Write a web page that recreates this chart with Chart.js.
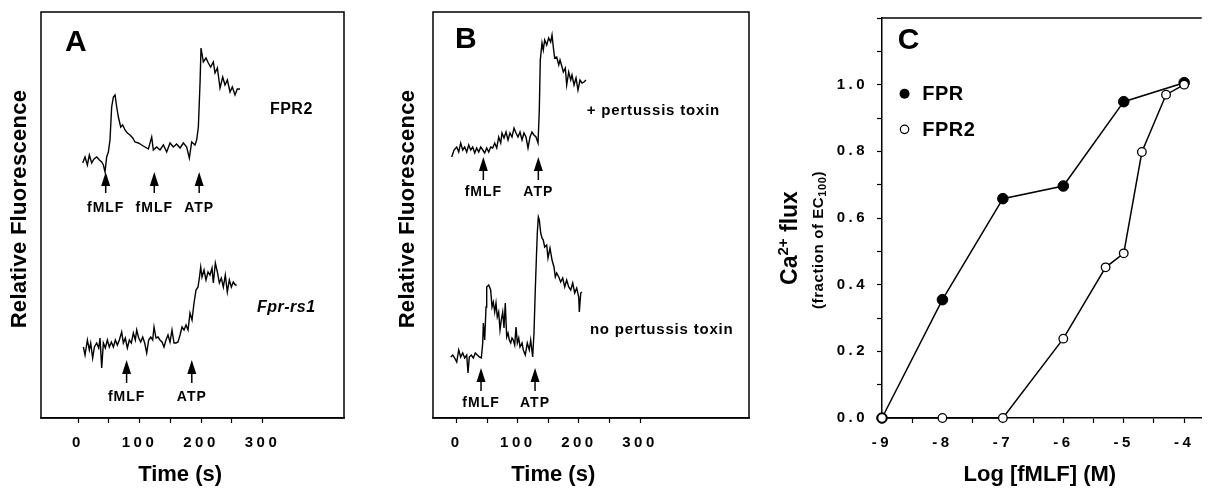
<!DOCTYPE html>
<html>
<head>
<meta charset="utf-8">
<script src="https://cdn.jsdelivr.net/npm/chart.js@4.4.1/dist/chart.umd.min.js"></script>
<style>
html, body { margin: 0; padding: 0; background: #fff; }
#wrap { position: relative; width: 1208px; height: 490px; overflow: hidden; }
canvas { position: absolute; top: 0; }
</style>
</head>
<body>
<div id="wrap">
  <canvas id="chartA" width="380" height="490" style="left:0"></canvas>
  <canvas id="chartB" width="380" height="490" style="left:380px"></canvas>
  <canvas id="chartC" width="448" height="490" style="left:760px"></canvas>
</div>
<script>
// --- panel A : FPR2 transfected cells (top) and Fpr-rs1 (bottom)
const timeA1 = [7.6,11.4,15.2,18.4,22.2,26,30.3,34.7,38.5,41.2,43.9,46.6,49.3,52,54.7,57.5,60.2,62.9,65.6,69.4,72.6,76.4,80.2,84.6,88.9,92.7,98.1,103.5,108.9,114.4,119.8,122.5,127.9,133.3,138.8,144.2,149.6,155,160.4,165.9,171.3,176.7,181,184.8,190.2,192.9,195.7,198.4,200,203.8,208.1,211.9,215.7,220,222.8,226.6,230.9,235.3,239,242.8,247.2,250.9,255.3,259,263.4];
const fluoA1 = [255,261,253,263,255,259,261,258,256,253,246,261,266,278,311,321,323,311,301,291,293,288,285,283,280,276,275,273,271,269,281,268,271,268,273,266,275,271,274,270,275,271,260,276,273,278,291,335,370,356,360,355,351,356,345,350,330,341,333,338,326,331,323,329,329];
const timeA2 = [8.7,11.4,15.2,18.4,20.6,23.8,26.6,30.3,33.6,35.8,38.5,41.2,44.4,47.7,50.9,54.2,57.5,60.7,63.9,67.2,71,73.7,76.9,80.2,83.5,86.7,90,93.2,95.4,98.7,101.9,105.2,108.4,111.7,114.9,118.2,121.4,123.6,126.8,130.1,133.3,136.6,139.8,143.1,146.3,149.6,152.8,156.1,159.3,162.6,165.9,169.1,172.4,175.6,178.9,182.1,185.4,188.6,191.9,195.1,197.3,199.5,201.6,204.9,208.1,211.4,214.6,217.9,220,223.3,226.6,229.8,233,236.3,239.5,242.8,246,249.3,252.5,255.8,258];
const fluoA2 = [71,63,78,68,75,60,71,75,70,80,50,75,70,78,71,76,71,78,73,78,86,75,80,70,78,75,85,78,88,80,76,81,75,65,78,81,78,91,80,81,78,76,71,78,83,76,88,75,75,76,83,91,88,93,88,105,98,115,128,131,140,151,141,148,138,146,143,150,135,155,146,135,140,131,143,126,138,131,136,133,133];
const stimTimesA1 = [45, 124, 197];
const stimLabelsA1 = ['fMLF', 'fMLF', 'ATP'];
const stimTimesA2 = [79, 185];
const stimLabelsA2 = ['fMLF', 'ATP'];

// --- panel B : with / without pertussis toxin
const timeB1 = [-8.2,-4.4,0,3.3,6.5,9.8,13.1,16.4,19.6,22.9,26.2,29.5,32.7,36,39.3,42.6,45.8,49.1,52.4,55.6,58.9,62.2,65.5,68.7,72,74.1,77.4,80.7,84,87.2,90.5,93.8,97.1,100.3,103.6,106.9,110.1,113.4,116.7,120,123.2,126.5,129.8,133.1,135.2,136.8,139.6,141.7,144,147.3,150.5,153.8,156,158.1,160.3,163.7,167,169.1,172.4,174.5,177.8,180,183.3,186.6,188.7,192,195.3,198.5,201.8,205.1,208.3,211.6];
const fluoB1 = [261,268,271,266,275,268,271,266,273,268,271,265,270,266,271,268,265,270,266,271,270,275,270,281,275,285,280,286,278,285,281,290,285,281,286,278,285,281,270,281,286,283,281,275,308,358,375,368,378,373,380,376,383,371,360,361,353,358,351,346,350,333,346,338,343,333,340,328,338,335,336,338];
const timeB2 = [-9.8,-6.5,-3.3,0,3.3,6.5,9.8,13.1,16.4,18.5,20.6,23.9,27.2,30.4,33.7,37,40.3,42.6,43.6,45.8,48,49.1,52.4,55.6,57.8,59.9,62.2,64.3,66.4,68.7,70.9,73,75.3,77.4,79.5,81.8,84,86.1,88.4,90.5,92.6,94.9,97.1,99.2,101.5,103.6,106.9,109,112.3,115.5,118.8,121.1,124.3,126.5,128.6,130.3,131.9,133.6,135.2,137.5,139.6,141.7,144,147.3,149.4,152.7,156,159.2,161.4,163.7,167,170.2,173.5,176.8,180,183.3,186.6,189.9,193.1,196.4,199.7,200.7,203,205.1];
const fluoB2 = [61,63,60,56,68,61,65,60,63,45,61,63,60,65,63,61,60,75,95,78,111,131,133,128,111,116,106,115,101,106,88,98,106,90,115,81,85,78,75,80,78,73,91,75,80,71,75,68,63,75,68,78,61,85,128,158,185,201,198,185,180,178,171,173,160,170,158,151,141,145,141,136,140,131,138,131,128,135,125,130,121,106,125,126];
const stimTimesB1 = [43.6, 133.6];
const stimTimesB2 = [39.8, 128.2];
const stimLabelsB = ['fMLF', 'ATP'];

const timeTicks = [0, 50, 100, 150, 200, 250, 300];

// --- panel C : dose response
const logConcFPR = [-9, -8, -7, -6, -5, -4];
const fluxFPR = [0.0, 0.355, 0.658, 0.696, 0.949, 1.006];
const logConcFPR2 = [-9, -8, -7, -6, -5.3, -5, -4.7, -4.3, -4];
const fluxFPR2 = [0.0, 0.0, 0.0, 0.238, 0.452, 0.494, 0.798, 0.97, 1.0];
const logTicks = [-9, -8.5, -8, -7.5, -7, -6.5, -6, -5.5, -5, -4.5, -4];
const fluxTicks = [0, 0.1, 0.2, 0.3, 0.4, 0.5, 0.6, 0.7, 0.8, 0.9, 1.0, 1.1, 1.2];

const FONT = '"Liberation Sans", Arial, Helvetica, sans-serif';
Chart.defaults.font.family = FONT;
Chart.defaults.color = '#000';

function bold(px, italic) { return (italic ? 'italic ' : '') + 'bold ' + px + 'px ' + FONT; }

// draws a line of text made of several pieces (for sub/superscripts), optionally rotated
function richText(ctx, parts, cx, cy, rot, spacing) {
  ctx.save();
  ctx.translate(cx, cy);
  ctx.rotate(rot || 0);
  ctx.letterSpacing = (spacing || 0) + 'px';
  let w = 0;
  parts.forEach(p => { ctx.font = p.font; p.w = ctx.measureText(p.s).width; w += p.w; });
  let x = -w / 2;
  ctx.textAlign = 'left';
  ctx.textBaseline = 'middle';
  parts.forEach(p => { ctx.font = p.font; ctx.fillText(p.s, x, p.dy || 0); x += p.w; });
  ctx.restore();
}

function arrow(ctx, x, tipY, tailY) {
  ctx.beginPath();
  ctx.moveTo(x, tipY);
  ctx.lineTo(x - 4.5, tipY + 14);
  ctx.lineTo(x + 4.5, tipY + 14);
  ctx.closePath();
  ctx.fill();
  ctx.beginPath();
  ctx.moveTo(x, tipY + 10);
  ctx.lineTo(x, tailY);
  ctx.stroke();
}

// plugin for panels A and B: frame, arrows, labels, axis titles
function traceDeco(d) {
  return {
    id: 'traceDeco',
    beforeDraw(chart) { chart.ctx.letterSpacing = '3.5px'; },
    afterDraw(chart) {
      const { ctx, chartArea: a } = chart;
      const xs = chart.scales.x, ys = chart.scales.y;
      ctx.save();
      ctx.letterSpacing = '0px';
      ctx.strokeStyle = '#000';
      ctx.fillStyle = '#000';
      ctx.lineWidth = 1.5;
      ctx.strokeRect(a.left, a.top, a.right - a.left, a.bottom - a.top);

      d.arrows.forEach(g => {
        g.times.forEach((t, i) => {
          const x = xs.getPixelForValue(t);
          arrow(ctx, x, ys.getPixelForValue(g.tip), ys.getPixelForValue(g.tail));
          richText(ctx, [{ s: g.labels[i], font: bold(14) }], x, ys.getPixelForValue(g.text), 0, 1);
        });
      });

      d.notes.forEach(n => {
        ctx.font = bold(n.size, n.italic);
        ctx.letterSpacing = (n.sp || 0) + 'px';
        ctx.textAlign = 'left';
        ctx.textBaseline = 'middle';
        ctx.fillText(n.s, xs.getPixelForValue(n.t), ys.getPixelForValue(n.v));
      });

      ctx.letterSpacing = '0px';
      richText(ctx, [{ s: 'Time (s)', font: bold(22) }], xs.getPixelForValue(d.titleT), 475, 0, 0);
      richText(ctx, [{ s: 'Relative Fluorescence', font: bold(22) }], d.yTitleX, 209, -Math.PI / 2, 0.3);
      ctx.restore();
    }
  };
}

function traceChart(id, d) {
  return new Chart(document.getElementById(id), {
    type: 'scatter',
    data: {
      datasets: d.traces.map(tr => ({
        data: tr.t.map((t, i) => ({ x: t, y: tr.v[i] })),
        showLine: true,
        borderColor: '#000',
        borderWidth: 1.4,
        pointRadius: 0,
        tension: 0,
        clip: false
      }))
    },
    options: {
      responsive: false,
      animation: false,
      devicePixelRatio: 1,
      layout: { padding: { left: d.padL, right: d.padR, top: 12, bottom: 0 } },
      plugins: { legend: { display: false }, tooltip: { enabled: false } },
      scales: {
        x: {
          type: 'linear',
          min: d.xMin,
          max: d.xMax,
          afterBuildTicks: s => { s.ticks = timeTicks.map(v => ({ value: v })); },
          afterFit: s => { s.height = 72; },
          grid: { drawOnChartArea: false, drawTicks: true, tickLength: 5, tickColor: '#000', tickWidth: 1.2 },
          border: { display: true, color: '#000', width: 1.5 },
          ticks: {
            color: '#000',
            font: { size: 15, weight: 'bold' },
            padding: 11,
            maxRotation: 0,
            autoSkip: false,
            callback: v => (v % 100 === 0 ? String(v) : '')
          }
        },
        y: { display: false, min: 0, max: 406 }
      }
    },
    plugins: [traceDeco(d)]
  });
}

traceChart('chartA', {
  traces: [{ t: timeA1, v: fluoA1 }, { t: timeA2, v: fluoA2 }],
  xMin: -60.2, xMax: 432.5, padL: 41, padR: 36,
  arrows: [
    { times: stimTimesA1, labels: stimLabelsA1, tip: 246, tail: 225, text: 210 },
    { times: stimTimesA2, labels: stimLabelsA2, tip: 58, tail: 35, text: 21 }
  ],
  notes: [
    { s: 'A', t: -21, v: 375, size: 30 },
    { s: 'FPR2', t: 312, v: 308, size: 16, sp: 0.5 },
    { s: 'Fpr-rs1', t: 291, v: 110, size: 16, italic: true, sp: 0.5 }
  ],
  titleT: 166, yTitleX: 20
});

traceChart('chartB', {
  traces: [{ t: timeB1, v: fluoB1 }, { t: timeB2, v: fluoB2 }],
  xMin: -38.8, xMax: 478.4, padL: 53, padR: 11,
  arrows: [
    { times: stimTimesB1, labels: stimLabelsB, tip: 261, tail: 238, text: 226 },
    { times: stimTimesB2, labels: stimLabelsB, tip: 50, tail: 27, text: 15 }
  ],
  notes: [
    { s: 'B', t: -2.7, v: 378, size: 30 },
    { s: '+ pertussis toxin', t: 213, v: 307, size: 15, sp: 0.8 },
    { s: 'no pertussis toxin', t: 218, v: 88, size: 15, sp: 0.8 }
  ],
  titleT: 158, yTitleX: 28
});

// panel C
const doseDeco = {
  id: 'doseDeco',
  beforeDraw(chart) { chart.ctx.letterSpacing = '3.5px'; },
  afterDraw(chart) {
    const { ctx, chartArea: a } = chart;
    const xs = chart.scales.x, ys = chart.scales.y;
    ctx.save();
    ctx.letterSpacing = '0px';
    ctx.strokeStyle = '#000';
    ctx.fillStyle = '#000';
    ctx.lineWidth = 1.5;
    ctx.beginPath();
    ctx.moveTo(a.left, a.top);
    ctx.lineTo(a.right, a.top);
    ctx.stroke();

    // panel letter
    ctx.font = bold(30);
    ctx.textAlign = 'left';
    ctx.textBaseline = 'middle';
    ctx.fillText('C', xs.getPixelForValue(-8.74), ys.getPixelForValue(1.131));

    // legend
    const lx = xs.getPixelForValue(-8.627);
    const tx = xs.getPixelForValue(-8.334);
    const y1 = ys.getPixelForValue(0.973), y2 = ys.getPixelForValue(0.866);
    ctx.beginPath(); ctx.arc(lx, y1, 5, 0, Math.PI * 2); ctx.fill();
    ctx.beginPath(); ctx.arc(lx, y2, 4.2, 0, Math.PI * 2);
    ctx.fillStyle = '#fff'; ctx.fill(); ctx.lineWidth = 1.2; ctx.stroke();
    ctx.fillStyle = '#000';
    ctx.font = bold(20);
    ctx.letterSpacing = '0.5px';
    ctx.fillText('FPR', tx, y1 + 1);
    ctx.fillText('FPR2', tx, y2 + 1);

    // axis titles
    richText(ctx, [{ s: 'Log [fMLF] (M)', font: bold(22) }], (a.left + a.right) / 2 - 2, 475, 0, 0);
    richText(ctx, [
      { s: 'Ca', font: bold(23) },
      { s: '2+', font: bold(15), dy: -7 },
      { s: ' flux', font: bold(23) }
    ], 31, 238, -Math.PI / 2, 0);
    richText(ctx, [
      { s: '(fraction of EC', font: bold(15) },
      { s: '100', font: bold(11), dy: 4 },
      { s: ')', font: bold(15) }
    ], 59, 240, -Math.PI / 2, 0.6);
    ctx.restore();
  }
};

new Chart(document.getElementById('chartC'), {
  type: 'scatter',
  data: {
    datasets: [
      {
        label: 'FPR2',
        data: logConcFPR2.map((x, i) => ({ x: x, y: fluxFPR2[i] })),
        showLine: true,
        borderColor: '#000',
        borderWidth: 1.5,
        pointRadius: 4.3,
        pointBackgroundColor: '#fff',
        pointBorderColor: '#000',
        pointBorderWidth: 1.3,
        clip: false,
        order: 1
      },
      {
        label: 'FPR',
        data: logConcFPR.map((x, i) => ({ x: x, y: fluxFPR[i] })),
        showLine: true,
        borderColor: '#000',
        borderWidth: 1.5,
        pointRadius: 5.3,
        pointBackgroundColor: '#000',
        pointBorderColor: '#000',
        pointBorderWidth: 1,
        clip: false,
        order: 2
      }
    ]
  },
  options: {
    responsive: false,
    animation: false,
    devicePixelRatio: 1,
    layout: { padding: { left: 62, right: 0, top: 14, bottom: 0 } },
    plugins: { legend: { display: false }, tooltip: { enabled: false } },
    scales: {
      x: {
        type: 'linear',
        min: -9,
        max: -3.71,
        afterBuildTicks: s => { s.ticks = logTicks.map(v => ({ value: v })); },
        afterFit: s => { s.height = 72; },
        grid: { drawOnChartArea: false, drawTicks: true, tickLength: 5, tickColor: '#000', tickWidth: 1.2 },
        border: { display: true, color: '#000', width: 1.5 },
        ticks: {
          color: '#000',
          font: { size: 15, weight: 'bold' },
          padding: 11,
          maxRotation: 0,
          autoSkip: false,
          callback: v => (Number.isInteger(v) ? String(v) : '')
        }
      },
      y: {
        type: 'linear',
        min: 0,
        max: 1.2,
        afterBuildTicks: s => { s.ticks = fluxTicks.map(v => ({ value: v })); },
        afterFit: s => { s.width = 60; },
        grid: { drawOnChartArea: false, drawTicks: true, tickLength: 5, tickColor: '#000', tickWidth: 1.2 },
        border: { display: true, color: '#000', width: 1.5 },
        ticks: {
          color: '#000',
          font: { size: 15, weight: 'bold' },
          padding: 9,
          autoSkip: false,
          callback: v => {
            const k = Math.round(v * 10);
            return (k % 2 === 0 && k <= 10) ? (k / 10).toFixed(1) : '';
          }
        }
      }
    }
  },
  plugins: [doseDeco]
});
</script>
</body>
</html>
